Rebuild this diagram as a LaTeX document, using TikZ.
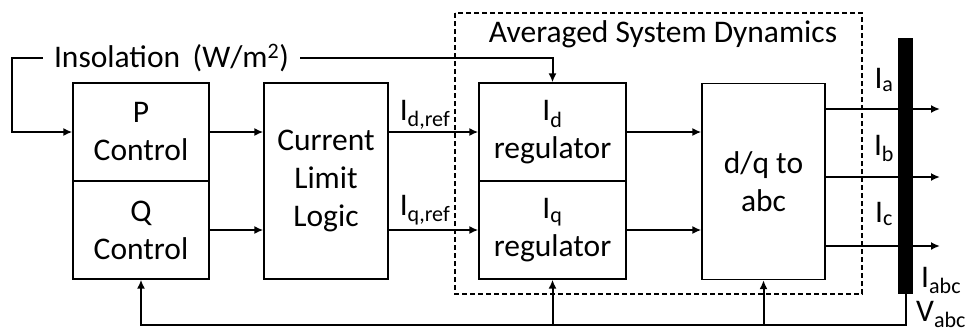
\documentclass[tikz,border=0pt]{standalone}
\usepackage{fontspec}
\setmainfont{Carlito}
\usetikzlibrary{arrows.meta}

\begin{document}
\begin{tikzpicture}[x=1pt, y=-1pt,
  every node/.style={font=\fontsize{31.5}{38}\selectfont, inner sep=0pt},
  block/.style={draw, line width=1.3pt, align=center},
  arr/.style={line width=2pt, -{Latex[length=9pt, width=8pt]}}]
  \useasboundingbox (0,0) rectangle (968,335);

  % averaged system dynamics frame
  \draw [line width=1.3pt, dash pattern=on 5pt off 3pt] (455,13) rectangle (862,294);
  \node (avg) at (663,34) {Averaged System Dynamics};

  \node [block, minimum width=136pt, minimum height=98pt] (P) at (141,132) {P\\Control};
  \node [block, minimum width=136pt, minimum height=98pt] (Q) at (141,230) {Q\\Control};
  \node [block, minimum width=124pt, minimum height=196pt] (CL) at (326,181) {Current\\Limit\\Logic};
  \node [block, minimum width=147pt, minimum height=98pt] (Id) at (552.5,132) {I\textsubscript{d}\\regulator};
  \node [block, minimum width=147pt, minimum height=98pt] (Iq) at (552.5,230) {I\textsubscript{q}\\regulator};
  \node [block, minimum width=123pt, minimum height=196pt] (dq) at (763.5,181.5) {d/q to\\abc};

  % insolation input
  \node [minimum width=257pt] (insol) at (171.5,58) {Insolation\hspace{0.4em}(W/m\textsuperscript{2})};
  \coordinate (bend) at (12,58);
  \draw [arr] (insol.west) -- (bend) |- (P.west);
  \draw [arr] (insol.east) -| (Id.north);

  \draw [arr] (P.east) -- (P.east -| CL.west);
  \draw [arr] (Q.east) -- (Q.east -| CL.west);
  \draw [arr] (CL.east |- Id.west) -- (Id.west);
  \draw [arr] (CL.east |- Iq.west) -- (Iq.west);
  \node [anchor=base] (idref) at (425,120) {I\textsubscript{d,ref}};
  \node [anchor=base] (iqref) at (425,215) {I\textsubscript{q,ref}};

  \draw [arr] (Id.east) -- (Id.east -| dq.west);
  \draw [arr] (Iq.east) -- (Iq.east -| dq.west);

  % phase currents
  \foreach \n/\y/\b in {a/109/88, b/177/155, c/246/222} {
    \coordinate (o\n) at (940,\y);
    \draw [arr] (dq.east |- o\n) -- (o\n);
    \node [anchor=base] (l\n) at (884,\b) {I\textsubscript{\n}};
  }

  \node [fill, minimum width=15pt, minimum height=256pt] (bus) at (905.5,166) {};
  \node [anchor=base west] (iabc) at (921,287) {I\textsubscript{abc}};
  \node [anchor=base west] (vabc) at (916,321) {V\textsubscript{abc}};

  % feedback
  \coordinate (fb) at (905.5,325);
  \draw [arr] (bus.south) -- (fb) -| (Q.south);
  \draw [arr] (Iq.south |- fb) -- (Iq.south);
  \draw [arr] (dq.south |- fb) -- (dq.south);
\end{tikzpicture}
\end{document}
